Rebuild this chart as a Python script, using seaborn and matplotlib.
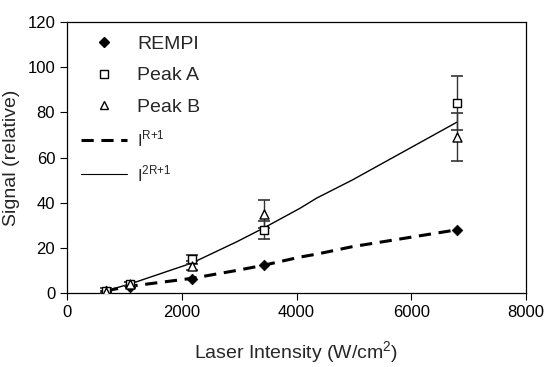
import matplotlib
matplotlib.use("Agg")
import matplotlib.pyplot as plt
import seaborn as sns
import pandas as pd
from matplotlib.lines import Line2D

sns.set_theme(style="ticks")
plt.rcParams['font.family'] = ['Liberation Sans', 'DejaVu Sans']
plt.rcParams['mathtext.fontset'] = 'custom'
plt.rcParams['mathtext.rm'] = 'Liberation Sans'

# data
intensity = [680, 1100, 2180, 3430, 6800]
rempi = [1.0, 2.5, 6.0, 12.5, 28.0]
peak_a = [1.0, 4.0, 15.0, 28.0, 84.0]
peak_a_err = [1.0, 1.0, 2.0, 4.0, 12.0]
peak_b = [0.5, 4.0, 12.0, 35.0, 69.0]
peak_b_err = [0.5, 1.0, 2.0, 6.0, 10.5]

fit_x = [680, 1100, 2180, 2960, 3430, 4060, 4350, 4970, 6800]
fit_r1 = [1.0, 3.0, 6.5, 10.0, 12.3, 15.9, 17.2, 20.5, 28.0]
fit_2r1 = [1.0, 4.0, 13.3, 22.7, 28.8, 37.5, 42.0, 50.0, 75.7]

xticks = [0, 2000, 4000, 6000, 8000]
yticks = [0, 20, 40, 60, 80, 100, 120]

fig = plt.figure(figsize=(5.44, 3.67), dpi=100)
ax = fig.add_axes([67/544, 1-293/367, (526-67)/544, (293-22)/367])

df_fit = pd.DataFrame({"x": fit_x, "r1": fit_r1, "r2": fit_2r1})
sns.lineplot(data=df_fit, x="x", y="r1", ax=ax, color="black", lw=2.2,
             linestyle=(0, (4, 2.5)), zorder=2)
sns.lineplot(data=df_fit, x="x", y="r2", ax=ax, color="black", lw=1.0, zorder=2)

ax.errorbar(intensity, peak_a, yerr=peak_a_err, fmt="none", ecolor="#333333",
            elinewidth=1.0, capsize=4, capthick=1.2, zorder=3)
ax.errorbar(intensity, peak_b, yerr=peak_b_err, fmt="none", ecolor="#333333",
            elinewidth=1.0, capsize=4, capthick=1.2, zorder=3)

df = pd.DataFrame({"x": intensity, "rempi": rempi, "a": peak_a, "b": peak_b})
sns.scatterplot(data=df, x="x", y="rempi", ax=ax, marker="D", s=30,
                color="black", edgecolor="black", zorder=4)
sns.scatterplot(data=df, x="x", y="a", ax=ax, marker="s", s=36,
                facecolor="white", edgecolor="black", linewidth=1.0, zorder=5)
sns.scatterplot(data=df, x="x", y="b", ax=ax, marker="^", s=42,
                facecolor="white", edgecolor="black", linewidth=1.0, zorder=5)

ax.set_xlim(0, 8000)
ax.set_ylim(0, 120)
ax.set_xticks(xticks)
ax.set_yticks(yticks)
ax.tick_params(labelsize=12, length=5, width=0.8, direction="out", colors="black")
for s in ax.spines.values():
    s.set_linewidth(0.9)
    s.set_color("black")
ax.set_xlabel("Laser Intensity (W/cm$^{\\mathregular{2}}$)", fontsize=14, labelpad=14)
ax.set_ylabel("Signal (relative)", fontsize=14, labelpad=5)

handles = [
    Line2D([], [], marker="D", color="black", ls="none", markersize=5.5),
    Line2D([], [], marker="s", mfc="white", mec="black", ls="none", markersize=5.5),
    Line2D([], [], marker="^", mfc="white", mec="black", ls="none", markersize=6),
    Line2D([], [], color="black", lw=2.2, ls=(0, (4, 2.5))),
    Line2D([], [], color="black", lw=0.8),
]
labels = ["REMPI", "Peak A", "Peak B",
          "I$^{\\mathregular{R{+}1}}$", "I$^{\\mathregular{2R{+}1}}$"]
leg = ax.legend(handles, labels, loc="upper left", frameon=False, fontsize=14,
                handlelength=2.4, handletextpad=0.5, labelspacing=0.7,
                borderaxespad=0.3, bbox_to_anchor=(0.0, 1.0))
for t in leg.get_texts()[3:]:
    t.set_fontsize(12)

fig.savefig("out.png", dpi=100)
